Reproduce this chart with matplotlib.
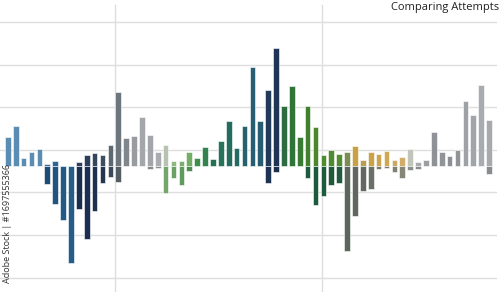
import matplotlib
matplotlib.use("Agg")
import matplotlib.pyplot as plt
import numpy as np

# ------------ data -------------#
attempts = list(range(1, 63))
highs = [6.9, 9.4, 1.9, 3.4, 4.1, 0.5, 1.2, 0.1, 0.1, 1.0,
         2.5, 3.0, 2.5, 5.0, 17.3, 6.6, 7.1, 11.4, 7.2, 3.2,
         4.9, 1.2, 1.2, 3.2, 1.9, 4.4, 1.6, 5.8, 10.6, 4.2,
         9.3, 23.2, 10.6, 17.8, 27.7, 14.2, 18.8, 6.7, 14.2, 9.2,
         2.5, 3.8, 2.7, 3.4, 4.8, 1.3, 3.3, 2.9, 3.6, 1.5,
         2.1, 4.0, 0.9, 1.4, 8.0, 3.4, 2.3, 3.8, 15.3, 12.0,
         19.0, 10.8]
lows = [0, 0, 0, 0, 0, -4.2, -8.9, -12.7, -22.8, -10.2,
        -17.2, -10.6, -3.9, -2.5, -3.8, 0, 0, 0, -0.8, -0.4,
        -6.3, -2.9, -4.4, -1.2, 0, 0, 0, 0, 0, 0,
        0, 0, 0, -4.0, -1.3, 0, 0, 0, -2.7, -9.2,
        -7.0, -4.5, -4.0, -20.0, -11.7, -5.9, -5.5, -0.8, -0.5, -1.3,
        -2.7, -0.9, -0.6, 0, 0, 0, 0, 0, 0, 0,
        0, -1.9]
grid_levels = [-26.2, -16.2, -6.2, 3.8, 13.8, 23.8, 33.8]
title = "Comparing Attempts"
credit = "Adobe Stock | #1697555366"

# ------------ colours -------------#
upper_colors = [
    "#5b8db3", "#5b8db3", "#5b8db3", "#5b8db3", "#5b8db3",
    "#3d6d94", "#2f6590", "#2f6590", "#2f6590", "#2c3e5c",
    "#2c3e5c", "#34465c", "#3e4e5e", "#5d6870", "#6d767c",
    "#80878c", "#989ca0", "#a3a7ab", "#a2a6aa", "#a9adb0",
    "#b7c2b2", "#8db87f", "#7aae6c", "#74ad66", "#3f8c4c",
    "#338250", "#237152", "#27725a", "#246c5e", "#256a64",
    "#26626c", "#275e74", "#265d70", "#213a5a", "#203456",
    "#2c6c40", "#307538", "#377c32", "#41812e", "#4a872c",
    "#4e8a2e", "#4f8a30", "#538c35", "#7d8c52", "#c9a142",
    "#bb9a52", "#c9a24a", "#c9a552", "#d0a852", "#c9a862",
    "#d2ad6a", "#c2c6ba", "#a7abac", "#9c9fa2", "#8e9296",
    "#909498", "#8c9094", "#909498", "#9ea2a6", "#a1a5a9",
    "#a8acb0", "#a6aaae",
]
lower_colors = [
    "#5b8db3", "#5b8db3", "#5b8db3", "#5b8db3", "#5b8db3",
    "#1f4c74", "#21557f", "#225a85", "#265d88", "#1c2e50",
    "#1c2f52", "#1e3050", "#25364e", "#3b4958", "#545d64",
    "#7a7f84", "#7a7f84", "#7a7f84", "#85898c", "#8a8e90",
    "#74a66a", "#6aa264", "#5f9c5c", "#4e8c52", "#3f8c4c",
    "#338250", "#237152", "#27725a", "#246c5e", "#256a64",
    "#26626c", "#275e74", "#265d70", "#1e3352", "#1e3050",
    "#2c6c40", "#307538", "#377c32", "#1f5a40", "#1d593d",
    "#1e5a3c", "#1f5a3a", "#215b3d", "#5c665c", "#5f675f",
    "#616961", "#6a7068", "#7a7a6a", "#7a7a6a", "#808070",
    "#858578", "#8a8e88", "#888b8c", "#9c9fa2", "#8e9296",
    "#909498", "#8c9094", "#909498", "#9ea2a6", "#a1a5a9",
    "#a8acb0", "#8a8d90",
]

# ------------ plotting -------------#
fig = plt.figure(figsize=(5, 2.92), dpi=100)
ax = fig.add_axes([0, 0, 0.994, 1])

x = np.arange(len(attempts))
lows_arr = np.array(lows)
neg = lows_arr < 0

ax.bar(x, highs, width=0.72, color=upper_colors, edgecolor="white", linewidth=0.4, zorder=3)
ax.bar(x[neg], lows_arr[neg], width=0.72, color=np.array(lower_colors)[neg],
       edgecolor="white", linewidth=0.4, zorder=3)

# grid
for g in grid_levels:
    ax.axhline(g, color="#dedede", linewidth=1.0, zorder=1)
for v in [13.6, 39.85]:
    ax.axvline(v, ymin=0, ymax=0.983, color="#dedede", linewidth=1.0, zorder=1)

ax.set_xlim(-0.99, 62.0)
ax.set_ylim(-29.58, 38.97)
ax.axis("off")

ax.text(0.999, 0.973, title, transform=fig.transFigure, ha="right", va="center",
        fontsize=8, color="#222222", family="Open Sans")
fig.text(0.016, 0.03, credit, rotation=90, ha="center", va="bottom",
         fontsize=6.5, color="#333333", family="Open Sans")

fig.savefig("out.png", dpi=100)
